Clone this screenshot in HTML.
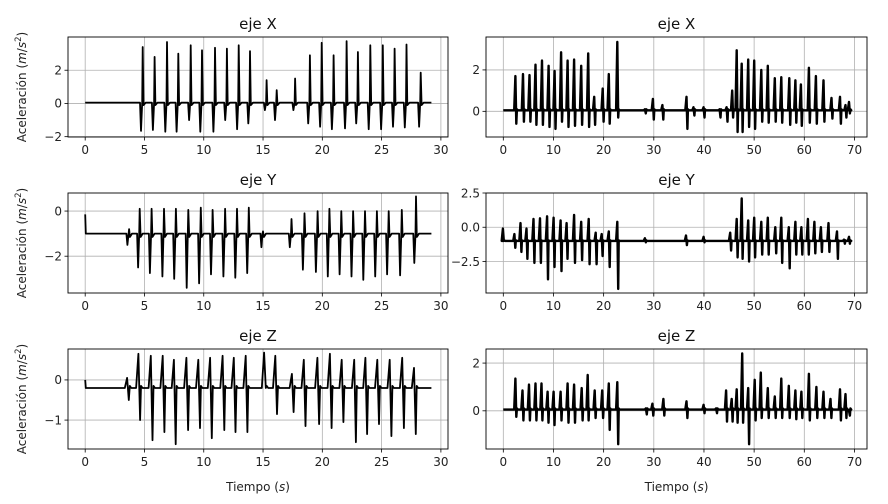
<!DOCTYPE html>
<html><head><meta charset="utf-8"><style>
body{margin:0;background:#fff}
svg{display:block;font-family:"DejaVu Sans","Liberation Sans",sans-serif}
</style></head><body>
<svg id="fig" width="888" height="504" viewBox="0 0 888 504"></svg>
<script>
// ---------- data ----------
const lxT=[4.85,5.85,6.9,7.85,8.9,9.85,10.95,11.95,12.95,13.9,15.3,16.15,17.7,18.95,19.95,20.95,22.05,23.0,24.05,25.1,26.1,27.1,28.3];
const lxUp=[3.4,2.8,3.7,3.0,3.5,3.2,3.35,3.3,3.5,3.15,1.4,0.8,1.5,2.9,3.65,2.9,3.75,3.1,3.5,3.5,3.3,3.55,1.85];
const lxDn=[-1.65,-1.6,-1.7,-1.7,-1.0,-1.7,-1.7,-1.0,-1.55,-1.2,-0.4,-1.0,-0.4,-1.2,-1.4,-1.55,-1.5,-1.2,-1.55,-1.55,-1.4,-1.45,-1.4];
const lyT=[3.7,4.6,5.6,6.65,7.65,8.7,9.75,10.75,11.8,12.8,13.8,15.0,17.4,18.5,19.6,20.6,21.6,22.6,23.6,24.6,25.6,26.7,27.9];
const lyUp=[-0.8,0.1,0.1,0.1,0.1,0.05,0.15,0.05,0.1,0.1,0.15,-0.9,-0.35,-0.1,0.0,0.1,0.0,0.0,0.0,0.0,0.0,0.05,0.65];
const lyDn=[-1.5,-2.5,-2.75,-2.9,-3.0,-3.4,-3.2,-2.8,-2.9,-2.95,-2.75,-1.6,-1.6,-2.6,-2.7,-2.9,-2.8,-2.9,-3.05,-2.9,-2.8,-2.85,-2.3];
const lzT=[3.6,4.55,5.6,6.6,7.55,8.6,9.6,10.6,11.65,12.6,13.6,15.15,16.1,17.5,18.5,19.65,20.7,21.7,22.75,23.7,24.7,25.75,26.8,27.8];
const lzUp=[0.05,0.65,0.6,0.6,0.5,0.55,0.5,0.55,0.6,0.55,0.6,0.68,0.6,0.15,0.5,0.55,0.65,0.5,0.5,0.55,0.5,0.5,0.55,0.3];
const lzDn=[-0.5,-1.0,-1.5,-1.3,-1.6,-1.25,-1.2,-1.45,-1.25,-1.3,-1.3,-0.2,-0.85,-0.8,-1.15,-1.1,-1.2,-1.05,-1.55,-1.35,-1.1,-1.4,-1.2,-1.35];
const rxT=[2.5,4,5.3,6.5,7.8,9.1,10.3,11.6,12.9,14.2,15.6,17.0,18.2,19.9,21.1,22.8,28.3,29.9,31.8,36.6,38.0,40.0,43.2,44.6,45.7,46.6,47.6,48.9,50.1,51.5,52.8,54.2,55.5,57.1,58.3,59.4,61.0,62.4,63.9,65.5,67.2,68.3,69.0];
const rxUp=[1.7,1.8,1.75,2.25,2.45,2.2,1.95,2.85,2.45,2.5,2.2,2.8,0.7,1.1,1.8,3.35,0.1,0.6,0.3,0.7,0.2,0.2,0.1,0.2,1.0,2.95,2.3,2.5,2.45,2.0,2.2,1.6,1.65,1.6,1.5,1.3,2.1,1.7,1.5,0.65,0.7,0.3,0.45];
const rxDn=[-0.6,-0.5,-0.5,-0.65,-0.65,-0.75,-0.85,-0.5,-0.75,-0.7,-0.65,-0.75,-0.65,-0.5,-0.6,-0.3,-0.1,-0.4,-0.4,-0.85,-0.2,-0.3,-0.3,-0.5,-0.3,-1.0,-1.0,-0.75,-0.85,-0.5,-0.55,-0.5,-0.55,-0.65,-0.55,-0.7,-0.55,-0.6,-0.5,-0.35,-0.6,-0.3,-0.1];
const ryT=[0,2.3,3.5,4.7,6.1,7.4,8.8,10.1,11.5,12.7,14.2,15.6,17.1,18.5,19.7,21.1,22.8,28.3,36.5,40.0,45.3,46.6,47.6,48.9,50.1,51.5,52.8,54.3,55.5,57.0,58.3,59.5,60.8,62.1,63.4,64.9,66.6,68.0,69.0];
const ryUp=[-0.1,-0.5,0.3,-0.1,0.6,0.65,0.8,0.7,0.5,0.3,0.9,0.4,0.6,-0.4,-0.5,-0.3,0.4,-0.8,-0.6,-0.7,-0.4,0.6,2.1,0.5,0.7,0.4,0.7,0.0,0.7,0.0,0.4,0.0,0.6,0.4,0.0,0.3,-0.3,-0.9,-0.7];
const ryDn=[-1.0,-1.5,-1.8,-2.3,-2.6,-2.6,-3.8,-2.9,-3.2,-2.3,-2.6,-2.4,-2.7,-2.7,-2.1,-2.9,-4.5,-1.1,-1.3,-1.1,-1.7,-2.2,-2.3,-2.5,-2.2,-2.0,-2.0,-1.9,-2.6,-3.0,-2.0,-2.0,-2.0,-1.9,-1.8,-1.8,-2.3,-1.2,-1.2];
const rzT=[2.5,3.9,5.2,6.5,7.7,8.9,10.1,11.5,12.9,14.2,15.7,16.9,18.3,19.8,21.1,22.8,28.5,29.8,32,36.6,40.0,42.5,44.5,45.6,46.6,47.7,48.9,50.2,51.4,52.8,54.2,55.5,57.0,58.3,59.5,61.0,62.5,63.9,65.3,67.2,68.3,69.0];
const rzUp=[1.35,0.85,1.1,1.15,1.15,0.8,0.8,0.8,1.15,1.1,0.95,1.5,0.85,0.85,1.15,1.2,0.1,0.3,0.5,0.4,0.25,0.1,0.85,0.5,0.9,2.4,0.95,1.3,1.6,0.95,0.6,1.35,1.05,0.85,0.8,1.55,1.0,0.8,0.5,0.9,0.7,0.0];
const rzDn=[-0.25,-0.4,-0.4,-0.4,-0.4,-0.5,-0.6,-0.4,-0.5,-0.5,-0.4,-0.4,-0.3,-0.3,-0.8,-1.4,-0.15,-0.2,-0.2,-0.3,-0.1,-0.1,-0.45,-0.45,-0.5,-0.5,-1.4,-0.4,-0.3,-0.3,-0.3,-0.3,-0.3,-0.35,-0.3,-0.4,-0.3,-0.3,-0.3,-0.4,-0.3,-0.2];
const leftXTicks=[0,5,10,15,20,25,30];
const rightXTicks=[0,10,20,30,40,50,60,70];

const NS="http://www.w3.org/2000/svg";
const fig=document.getElementById('fig');
function mk(tag,attrs,parent){const e=document.createElementNS(NS,tag);for(const k in attrs)e.setAttribute(k,attrs[k]);(parent||fig).appendChild(e);return e;}
const panels=[
 {name:'left-x',title:'eje X',x0:68,x1:448,y0:37,y1:137,xmin:-1.45,xmax:30.6,ymin:-2.02,ymax:4.0,xt:leftXTicks,yt:[-2,0,2],ytl:['−2','0','2'],T:lxT,U:lxUp,D:lxDn,base:0.05,tEnd:29.2,dipFirst:true,sw:1.8,w:0.14,ylab:true,xlab:false},
 {name:'right-x',title:'eje X',x0:486,x1:867,y0:37,y1:137,xmin:-3.45,xmax:72.5,ymin:-1.24,ymax:3.59,xt:rightXTicks,yt:[0,2],ytl:['0','2'],T:rxT,U:rxUp,D:rxDn,base:0.05,tEnd:69.2,dipFirst:false,sw:2.4,w:0.2,ylab:false,xlab:false},
 {name:'left-y',title:'eje Y',x0:68,x1:448,y0:193,y1:293,xmin:-1.45,xmax:30.6,ymin:-3.63,ymax:0.8,xt:leftXTicks,yt:[-2,0],ytl:['−2','0'],T:lyT,U:lyUp,D:lyDn,base:-1.0,tEnd:29.2,dipFirst:true,sw:1.8,w:0.14,ylab:true,xlab:false,startSpike:-0.15},
 {name:'right-y',title:'eje Y',x0:486,x1:867,y0:193,y1:293,xmin:-3.45,xmax:72.5,ymin:-4.8,ymax:2.5,xt:rightXTicks,yt:[2.5,0,-2.5],ytl:['2.5','0.0','−2.5'],T:ryT,U:ryUp,D:ryDn,base:-1.0,tEnd:69.2,dipFirst:false,sw:2.4,w:0.2,ylab:false,xlab:false},
 {name:'left-z',title:'eje Z',x0:68,x1:448,y0:349,y1:449,xmin:-1.45,xmax:30.6,ymin:-1.72,ymax:0.77,xt:leftXTicks,yt:[-1,0],ytl:['−1','0'],T:lzT,U:lzUp,D:lzDn,base:-0.2,tEnd:29.2,dipFirst:false,sw:1.8,w:0.16,ylab:true,xlab:true,startSpike:0.0},
 {name:'right-z',title:'eje Z',x0:486,x1:867,y0:349,y1:449,xmin:-3.45,xmax:72.5,ymin:-1.6,ymax:2.59,xt:rightXTicks,yt:[0,2],ytl:['0','2'],T:rzT,U:rzUp,D:rzDn,base:0.05,tEnd:69.2,dipFirst:false,sw:2.4,w:0.2,ylab:false,xlab:true}
];
panels.forEach(p=>{
 const g=mk('g',{});
 
 
 const sx=v=>p.x0+(v-p.xmin)/(p.xmax-p.xmin)*(p.x1-p.x0);
 const sy=v=>p.y1-(v-p.ymin)/(p.ymax-p.ymin)*(p.y1-p.y0);
 p.xt.forEach(t=>{const l=mk('line',{x1:sx(t),x2:sx(t),y1:p.y0,y2:p.y1,stroke:'#b0b0b0','stroke-width':0.8},g);
  const tk=mk('line',{x1:sx(t),x2:sx(t),y1:p.y1,y2:p.y1+3.5,stroke:'#000','stroke-width':0.8},g);
  const tx=mk('text',{x:sx(t),y:p.y1+17,'text-anchor':'middle','font-size':12,fill:'#222'},g);tx.textContent=t;});
 p.yt.forEach((t,i)=>{const l=mk('line',{x1:p.x0,x2:p.x1,y1:sy(t),y2:sy(t),stroke:'#b0b0b0','stroke-width':0.8},g);
  const tk=mk('line',{x1:p.x0-3.5,x2:p.x0,y1:sy(t),y2:sy(t),stroke:'#000','stroke-width':0.8},g);
  const tx=mk('text',{x:p.x0-6,y:sy(t)+4.3,'text-anchor':'end','font-size':12,fill:'#222'},g);tx.textContent=p.ytl[i];});
 const pts=[];
 pts.push([0,p.startSpike!==undefined?p.startSpike:p.base]);
 pts.push([0.05,p.base]);
 p.T.forEach((t,i)=>{
  const w=p.w;
  pts.push([t-w*1.6,p.base]);
  if(p.dipFirst){pts.push([t-w,p.D[i]]);pts.push([t-w*0.3,p.base]);pts.push([t,p.U[i]]);pts.push([t+w*0.5,p.base-0.15]);}
  else{pts.push([t-w*0.4,p.U[i]]);pts.push([t+w*0.5,p.D[i]]);pts.push([t+w,p.base+0.05]);}
  pts.push([t+w*1.8,p.base]);
 });
 pts.push([p.tEnd,p.base]);
 const path=mk('polyline',{points:pts.map(q=>sx(q[0]).toFixed(1)+','+sy(q[1]).toFixed(1)).join(' '),fill:'none',stroke:'#000','stroke-width':p.sw,'stroke-linejoin':'round'},g);
 
 
 const fr=mk('rect',{x:p.x0,y:p.y0,width:p.x1-p.x0,height:p.y1-p.y0,fill:'none',stroke:'#000','stroke-width':0.9},g);
 
 
 const ti=mk('text',{x:(p.x0+p.x1)/2,y:p.y0-8,'text-anchor':'middle','font-size':15,fill:'#111'},g);ti.textContent=p.title;
 
 
 if(p.ylab){const yl=mk('text',{x:0,y:0,'text-anchor':'middle','font-size':12,fill:'#222',transform:`translate(26,${(p.y0+p.y1)/2}) rotate(-90)`},g);
  yl.innerHTML='Aceleración (<tspan font-style="italic">m</tspan>/<tspan font-style="italic">s</tspan><tspan font-size="8.5" dy="-5">2</tspan><tspan dy="5">)</tspan>';
  
  }
 if(p.xlab){const xl=mk('text',{x:(p.x0+p.x1)/2,y:p.y1+42,'text-anchor':'middle','font-size':12,fill:'#222'},g);
  xl.innerHTML='Tiempo (<tspan font-style="italic">s</tspan>)';
  
  }
});
</script>
</body></html>
